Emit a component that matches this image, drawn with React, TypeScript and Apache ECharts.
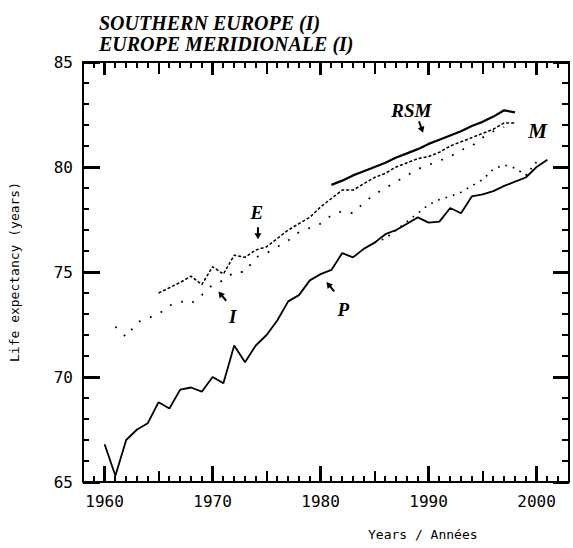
import React, { useEffect, useRef } from 'react';
import * as echarts from 'echarts';

const TITLE_LINES = ['SOUTHERN EUROPE (I)', 'EUROPE MERIDIONALE (I)'];
const X_AXIS_TITLE = 'Years / Années';
const Y_AXIS_TITLE = 'Life expectancy (years)';
const X_TICK_LABELS = [1960, 1970, 1980, 1990, 2000];
const X_MID_TICKS = [1965, 1975, 1985, 1995];
const Y_TICK_LABELS = [65, 70, 75, 80, 85];

// P
const P_YEARS = [1960, 1961, 1962, 1963, 1964, 1965, 1966, 1967, 1968, 1969, 1970, 1971, 1972, 1973, 1974, 1975, 1976, 1977, 1978, 1979, 1980, 1981, 1982, 1983, 1984, 1985, 1986, 1987, 1988, 1989, 1990, 1991, 1992, 1993, 1994, 1995, 1996, 1997, 1998, 1999, 2000, 2001];
const P_VALUES = [66.8, 65.3, 67.0, 67.5, 67.8, 68.8, 68.5, 69.4, 69.5, 69.3, 70.0, 69.7, 71.5, 70.7, 71.5, 72.0, 72.7, 73.6, 73.9, 74.6, 74.9, 75.1, 75.9, 75.7, 76.1, 76.4, 76.8, 77.0, 77.3, 77.6, 77.35, 77.4, 78.05, 77.8, 78.6, 78.7, 78.85, 79.1, 79.3, 79.5, 80.0, 80.35];

// E
const E_YEARS = [1965, 1966, 1967, 1968, 1969, 1970, 1971, 1972, 1973, 1974, 1975, 1976, 1977, 1978, 1979, 1980, 1981, 1982, 1983, 1984, 1985, 1986, 1987, 1988, 1989, 1990, 1991, 1992, 1993, 1994, 1995, 1996, 1997, 1998];
const E_VALUES = [74.0, 74.25, 74.5, 74.8, 74.4, 75.25, 74.9, 75.8, 75.7, 76.05, 76.2, 76.6, 77.0, 77.3, 77.6, 78.1, 78.5, 78.9, 78.9, 79.2, 79.5, 79.7, 80.0, 80.2, 80.4, 80.5, 80.7, 81.0, 81.2, 81.4, 81.6, 81.8, 82.1, 82.1];

// I
const I_YEARS = [1961, 1962, 1963, 1964, 1965, 1966, 1967, 1968, 1969, 1970, 1971, 1972, 1973, 1974, 1975, 1976, 1977, 1978, 1979, 1980, 1981, 1982, 1983, 1984, 1985, 1986, 1987, 1988, 1989, 1990, 1991, 1992, 1993, 1994, 1995, 1996, 1997];
const I_VALUES = [72.4, 71.9, 72.6, 72.8, 73.0, 73.4, 73.6, 73.5, 73.9, 74.4, 74.6, 75.0, 75.0, 75.7, 75.9, 76.2, 76.5, 76.9, 77.1, 77.3, 77.7, 77.9, 77.8, 78.3, 78.7, 79.0, 79.3, 79.6, 79.9, 80.1, 80.3, 80.5, 80.8, 81.0, 81.4, 81.7, 81.9];

// RSM
const RSM_YEARS = [1981, 1982, 1983, 1984, 1985, 1986, 1987, 1988, 1989, 1990, 1991, 1992, 1993, 1994, 1995, 1996, 1997, 1998];
const RSM_VALUES = [79.15, 79.35, 79.6, 79.8, 80.0, 80.2, 80.45, 80.65, 80.85, 81.1, 81.3, 81.5, 81.7, 81.95, 82.15, 82.4, 82.7, 82.6];

// M
const M_YEARS = [1985, 1986, 1987, 1988, 1989, 1990, 1991, 1992, 1993, 1994, 1995, 1996, 1997, 1998, 1999, 2000];
const M_VALUES = [76.4, 76.6, 77.0, 77.4, 77.8, 78.2, 78.45, 78.6, 78.8, 79.1, 79.4, 79.9, 80.1, 79.95, 79.6, 80.25];

const X_MIN = 1958;
const X_MAX = 2003;
const Y_MIN = 65;
const Y_MAX = 85;

const pairs = (xs: number[], ys: number[]) => xs.map((x, i) => [x, ys[i]]);

const ANNOT_FONT = {
  fontFamily: 'Liberation Serif',
  fontStyle: 'italic' as const,
  fontWeight: 'bold' as const,
  fontSize: 19,
  color: '#000',
};

// arrow pointing down at rotation 0
const arrowPath = 'path://M-1,0 L1,0 L1,5 L3.5,5 L0,10 L-3.5,5 L-1,5 Z';

const textMark = (coord: number[], text: string, size = 19) => ({
  coord,
  symbol: 'circle',
  symbolSize: 1,
  itemStyle: { color: 'rgba(0,0,0,0)' },
  label: { show: true, position: 'inside', formatter: text, ...ANNOT_FONT, fontSize: size },
});

const arrowMark = (coord: number[], rotate: number) => ({
  coord,
  symbol: arrowPath,
  symbolSize: [7, 12],
  symbolRotate: rotate,
  itemStyle: { color: '#000' },
  label: { show: false },
});

const range = (a: number, b: number) => {
  const out: number[] = [];
  for (let v = a; v <= b; v++) out.push(v);
  return out;
};

export default function App() {
  const ref = useRef<HTMLDivElement>(null);

  useEffect(() => {
    if (!ref.current) return;
    const chart = echarts.init(ref.current, undefined, { renderer: 'svg' });
    const mono = 'DejaVu Sans Mono';
    const black = '#000';

    const lineCfg = { show: true, onZero: false, lineStyle: { color: black, width: 2 } };

    const xAxis = [
      {
        type: 'value',
        position: 'bottom',
        min: X_MIN,
        max: X_MAX,
        interval: 1,
        splitLine: { show: false },
        axisLine: lineCfg,
        axisLabel: {
          show: true,
          fontFamily: mono,
          fontSize: 16,
          color: black,
          margin: 11,
          formatter: (v: number) => (X_TICK_LABELS.indexOf(v) >= 0 ? String(v) : ''),
        },
        axisTick: { show: false },
      },
      {
        type: 'value',
        position: 'top',
        min: X_MIN,
        max: X_MAX,
        interval: 1,
        splitLine: { show: false },
        axisLine: lineCfg,
        axisLabel: { show: false },
        axisTick: { show: false },
      },
    ];

    const yAxis = [
      {
        type: 'value',
        position: 'left',
        min: Y_MIN,
        max: Y_MAX,
        interval: 1,
        splitLine: { show: false },
        axisLine: lineCfg,
        name: Y_AXIS_TITLE,
        nameLocation: 'middle',
        nameRotate: 90,
        nameGap: 62,
        nameTextStyle: { fontFamily: mono, fontSize: 13, color: black },
        axisLabel: {
          show: true,
          fontFamily: mono,
          fontSize: 16,
          color: black,
          margin: 10,
          formatter: (v: number) => (Y_TICK_LABELS.indexOf(v) >= 0 ? String(v) : ''),
        },
        axisTick: { show: false },
      },
      {
        type: 'value',
        position: 'right',
        min: Y_MIN,
        max: Y_MAX,
        interval: 1,
        splitLine: { show: false },
        axisLine: lineCfg,
        axisLabel: { show: false },
        axisTick: { show: false },
      },
    ];

    const common = {
      type: 'line' as const,
      xAxisIndex: 0,
      yAxisIndex: 0,
      showSymbol: false,
      symbol: 'none',
      silent: true,
    };

    chart.setOption({
      animation: false,
      backgroundColor: '#fff',
      title: {
        text: TITLE_LINES.join('\n'),
        left: 94,
        top: 7,
        textStyle: { ...ANNOT_FONT, fontSize: 20, lineHeight: 21 },
      },
      grid: { left: 77, right: 4, top: 62, bottom: 66, containLabel: false },
      xAxis,
      yAxis,
      series: [
        {
          ...common,
          name: 'P',
          data: pairs(P_YEARS, P_VALUES),
          lineStyle: { color: black, width: 1.8 },
          markPoint: {
            silent: true,
            data: [textMark([1982.1, 73.2], 'P'), arrowMark([1980.9, 74.3], 220)],
          },
        },
        {
          ...common,
          name: 'E',
          data: pairs(E_YEARS, E_VALUES),
          lineStyle: { color: black, width: 1.5, type: [3, 2] },
          markPoint: {
            silent: true,
            data: [textMark([1974.1, 77.85], 'E'), arrowMark([1974.2, 76.85], 0)],
          },
        },
        {
          ...common,
          name: 'I',
          data: pairs(I_YEARS, I_VALUES),
          lineStyle: { color: black, width: 1.8, type: [1.8, 10] },
          markPoint: {
            silent: true,
            data: [textMark([1971.85, 72.9], 'I'), arrowMark([1970.9, 73.85], 220)],
          },
        },
        {
          ...common,
          name: 'RSM',
          data: pairs(RSM_YEARS, RSM_VALUES),
          lineStyle: { color: black, width: 2.2 },
          markPoint: {
            silent: true,
            data: [textMark([1988.4, 82.67], 'RSM'), arrowMark([1989.3, 81.9], 20)],
          },
        },
        {
          ...common,
          name: 'M',
          data: pairs(M_YEARS, M_VALUES),
          lineStyle: { color: black, width: 1.7, type: [1.7, 6] },
          markPoint: {
            silent: true,
            data: [textMark([2000.1, 81.7], 'M', 21)],
          },
        },
      ],
    });

    // inward ticks on all four sides, positioned through the axes' scales
    const toPx = (x: number, y: number) =>
      chart.convertToPixel({ xAxisIndex: 0, yAxisIndex: 0 }, [x, y]) as number[];
    const els: any[] = [];
    const bar = (x: number, y: number, w: number, h: number) =>
      els.push({
        type: 'rect',
        silent: true,
        z: 100,
        shape: { x: Math.round(x), y: Math.round(y), width: Math.round(w), height: Math.round(h) },
        style: { fill: black },
      });
    const xTicks = (vals: number[], lb: number, lt: number, w: number) =>
      vals.forEach((v) => {
        const b = toPx(v, Y_MIN);
        const t = toPx(v, Y_MAX);
        bar(b[0] - w / 2, b[1] - lb, w, lb);
        bar(t[0] - w / 2, t[1], w, lt);
      });
    const yTicks = (vals: number[], ll: number, lr: number, w: number) =>
      vals.forEach((v) => {
        const l = toPx(X_MIN, v);
        const r = toPx(X_MAX, v);
        bar(l[0], l[1] - w / 2, ll, w);
        bar(r[0] - lr, r[1] - w / 2, lr, w);
      });

    xTicks(range(X_MIN + 1, X_MAX - 1), 6, 6, 2);
    xTicks(X_MID_TICKS, 11, 12, 2);
    xTicks(X_TICK_LABELS, 16, 13, 3);
    yTicks(range(Y_MIN + 1, Y_MAX - 1), 6, 7, 2);
    yTicks(Y_TICK_LABELS, 17, 16, 3);

    els.push({
      type: 'text',
      left: 368,
      top: 528,
      style: { text: X_AXIS_TITLE, fontFamily: mono, fontSize: 13, fill: black },
    });

    chart.setOption({ graphic: els });

    return () => chart.dispose();
  }, []);

  return (
    <div
      ref={ref}
      style={{ position: 'fixed', left: 0, top: 0, width: 573, height: 548, background: '#fff' }}
    />
  );
}
